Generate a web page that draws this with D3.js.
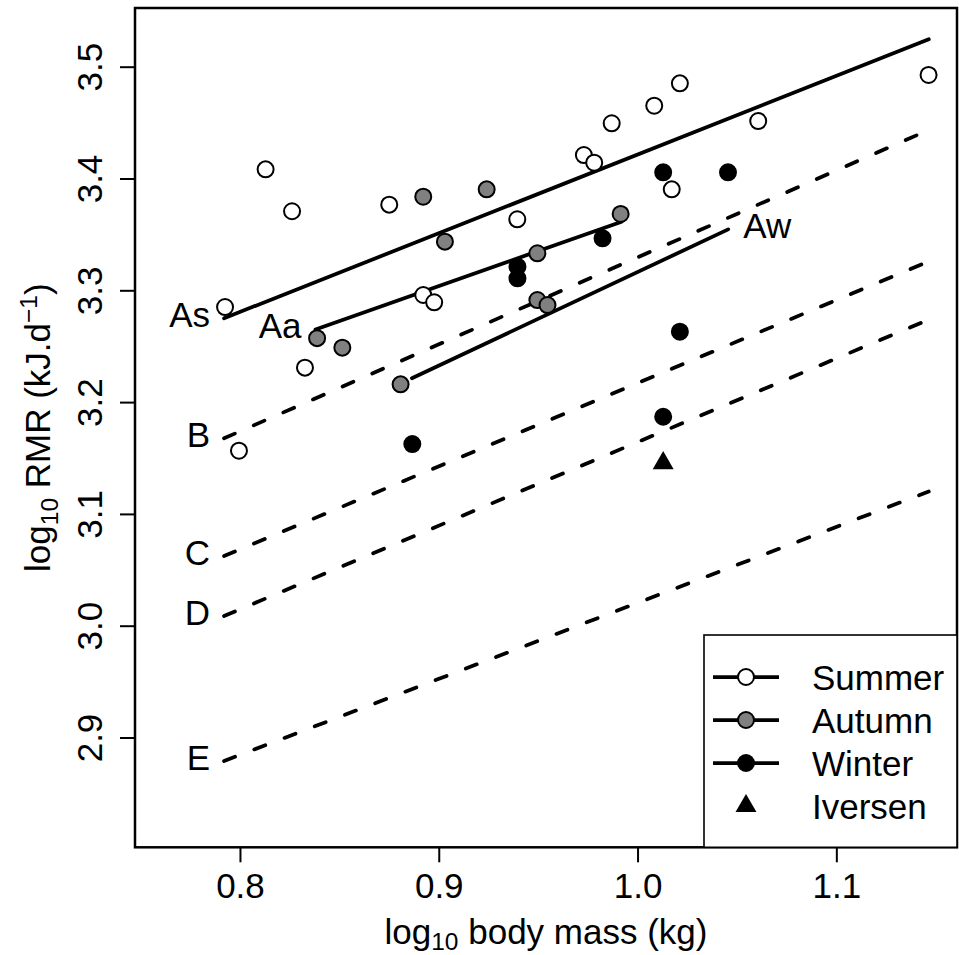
<!DOCTYPE html>
<html>
<head>
<meta charset="utf-8">
<script src="https://cdn.jsdelivr.net/npm/d3@7"></script>
<style>
  html, body { margin: 0; padding: 0; background: #fff; }
  svg { display: block; font-family: "Liberation Sans", Arial, Helvetica, sans-serif; }
</style>
</head>
<body>
<svg id="chart" width="959" height="955"></svg>
<script>
// ---------- data ----------
const xTicks = [0.8, 0.9, 1.0, 1.1];
const yTicks = [2.9, 3.0, 3.1, 3.2, 3.3, 3.4, 3.5];

const summerX = [0.7925, 0.8129, 0.8262, 0.8751, 0.8922, 0.8977, 0.8327, 0.7995, 0.9395, 0.9730, 0.9782, 1.0172, 0.9870, 1.0084, 1.0213, 1.0607, 1.1464];
const summerY = [3.2850, 3.4082, 3.3707, 3.3766, 3.2958, 3.2893, 3.2308, 3.1565, 3.3635, 3.4210, 3.4141, 3.3903, 3.4494, 3.4651, 3.4851, 3.4514, 3.4926];

const autumnX = [0.8388, 0.8515, 0.8808, 0.8922, 0.9031, 0.9241, 0.9496, 0.9496, 0.9547, 0.9915];
const autumnY = [3.2572, 3.2487, 3.2159, 3.3837, 3.3435, 3.3903, 3.3331, 3.2913, 3.2868, 3.3683];

const winterX = [0.8867, 0.9396, 0.9396, 0.9824, 1.0129, 1.0455, 1.0213, 1.0129];
const winterY = [3.1625, 3.3211, 3.3107, 3.3465, 3.4055, 3.4055, 3.2630, 3.1869];

const iversenX = [1.0129];
const iversenY = [3.1454];

// regression / reference lines (endpoints in data units)
const lineNames  = ["As", "Aa", "Aw", "B", "C", "D", "E"];
const lineDashed = [false, false, false, true, true, true, true];
const lineX0 = [0.792, 0.838, 0.8865, 0.792, 0.792, 0.792, 0.792];
const lineY0 = [3.275, 3.265, 3.2213, 3.1676, 3.0623, 3.0087, 2.879];
const lineX1 = [1.1465, 0.992, 1.0456, 1.1465, 1.1465, 1.1465, 1.1465];
const lineY1 = [3.5245, 3.3614, 3.3545, 3.4434, 3.3259, 3.2738, 3.120];
const labelAtEnd = [false, false, true, false, false, false, false];

const legendLabels = ["Summer", "Autumn", "Winter", "Iversen"];
const legendFills  = ["#ffffff", "#808080", "#000000", "#000000"];

// ---------- layout ----------
const svg = d3.select("#chart");
svg.append("rect").attr("width", 959).attr("height", 955).attr("fill", "#fff");

const L = 135, R = 957, T = 8, B = 847.3;
const FS = 35;
const x = d3.scaleLinear().domain([0.7472, 1.1607]).range([L, R]);
const y = d3.scaleLinear().domain([2.8018, 3.5525]).range([B, T]);

// ---------- axes ----------
const xAxis = svg.append("g").attr("transform", `translate(0,${B})`)
  .call(d3.axisBottom(x).tickValues(xTicks).tickFormat(d3.format(".1f")).tickSize(15).tickSizeOuter(0));
xAxis.select(".domain").remove();
xAxis.selectAll("line").attr("stroke", "#000").attr("stroke-width", 2);
xAxis.selectAll("text").attr("y", 51).attr("dy", null)
  .attr("font-size", FS).attr("font-family", "Liberation Sans, Arial, sans-serif").attr("fill", "#000");

const yAxis = svg.append("g").attr("transform", `translate(${L},0)`)
  .call(d3.axisLeft(y).tickValues(yTicks).tickFormat(d3.format(".1f")).tickSize(15).tickSizeOuter(0));
yAxis.select(".domain").remove();
yAxis.selectAll("line").attr("stroke", "#000").attr("stroke-width", 2);
yAxis.selectAll("text")
  .attr("x", null).attr("dy", null).attr("y", null)
  .attr("transform", "translate(-33.3,0) rotate(-90)")
  .attr("text-anchor", "middle")
  .attr("font-size", FS).attr("font-family", "Liberation Sans, Arial, sans-serif").attr("fill", "#000");

// axis titles
const xt = svg.append("text").attr("x", (L + R) / 2).attr("y", 944)
  .attr("text-anchor", "middle").attr("font-size", FS);
xt.append("tspan").text("log");
xt.append("tspan").attr("font-size", FS * 0.7).attr("dy", 6).text("10");
xt.append("tspan").attr("dy", -6).text(" body mass (kg)");

const yt = svg.append("text")
  .attr("transform", `translate(50,${(T + B) / 2}) rotate(-90)`)
  .attr("text-anchor", "middle").attr("font-size", FS);
yt.append("tspan").text("log");
yt.append("tspan").attr("font-size", FS * 0.7).attr("dy", 8).text("10");
yt.append("tspan").attr("dy", -8).text(" RMR (kJ.d");
yt.append("tspan").attr("font-size", FS * 0.7).attr("dy", -13).text("\u22121");
yt.append("tspan").attr("dy", 13).text(")");

// ---------- lines ----------
const lines = lineNames.map((n, i) => ({
  name: n, dashed: lineDashed[i], end: labelAtEnd[i],
  p: [[lineX0[i], lineY0[i]], [lineX1[i], lineY1[i]]]
}));
const lineGen = d3.line().x(d => x(d[0])).y(d => y(d[1]));

svg.append("g").selectAll("path").data(lines).join("path")
  .attr("d", d => lineGen(d.p))
  .attr("fill", "none").attr("stroke", "#000")
  .attr("stroke-width", 3.75)
  .attr("stroke-linecap", "round")
  .attr("stroke-dasharray", d => d.dashed ? "11.75,20.6" : null);

svg.append("g").selectAll("text").data(lines).join("text")
  .attr("x", d => d.end ? x(d.p[1][0]) + 15 : x(d.p[0][0]) - 14)
  .attr("y", d => (d.end ? y(d.p[1][1]) : y(d.p[0][1])) + 8.7)
  .attr("text-anchor", d => d.end ? "start" : "end")
  .attr("font-size", FS).text(d => d.name);

// ---------- points ----------
const series = [
  { xs: summerX, ys: summerY, fill: legendFills[0] },
  { xs: autumnX, ys: autumnY, fill: legendFills[1] },
  { xs: winterX, ys: winterY, fill: legendFills[2] }
];
series.forEach(s => {
  svg.append("g").selectAll("circle").data(s.xs.map((v, i) => [v, s.ys[i]])).join("circle")
    .attr("cx", d => x(d[0])).attr("cy", d => y(d[1])).attr("r", 8)
    .attr("fill", s.fill).attr("stroke", "#000").attr("stroke-width", 2);
});

const tri = d3.symbol().type(d3.symbolTriangle).size(190);
svg.append("g").selectAll("path").data(iversenX.map((v, i) => [v, iversenY[i]])).join("path")
  .attr("d", tri).attr("transform", d => `translate(${x(d[0])},${y(d[1])})`).attr("fill", "#000");

// ---------- plot box ----------
svg.append("rect").attr("x", L).attr("y", T).attr("width", R - L).attr("height", B - T)
  .attr("fill", "none").attr("stroke", "#000").attr("stroke-width", 2.5);

// ---------- legend ----------
const lg = svg.append("g");
lg.append("rect").attr("x", 704).attr("y", 635).attr("width", R - 704).attr("height", B - 635)
  .attr("fill", "#fff").attr("stroke", "#000").attr("stroke-width", 1.6);
legendLabels.forEach((lab, i) => {
  const cy = 677 + i * 43;
  if (i < 3) {
    lg.append("line").attr("x1", 713).attr("x2", 779).attr("y1", cy).attr("y2", cy)
      .attr("stroke", "#000").attr("stroke-width", 3.75);
    lg.append("circle").attr("cx", 746).attr("cy", cy).attr("r", 8)
      .attr("fill", legendFills[i]).attr("stroke", "#000").attr("stroke-width", 2);
  } else {
    lg.append("path").attr("d", tri).attr("transform", `translate(746,${cy})`).attr("fill", "#000");
  }
  lg.append("text").attr("x", 812).attr("y", cy + 13).attr("font-size", FS).text(lab);
});
</script>
</body>
</html>
